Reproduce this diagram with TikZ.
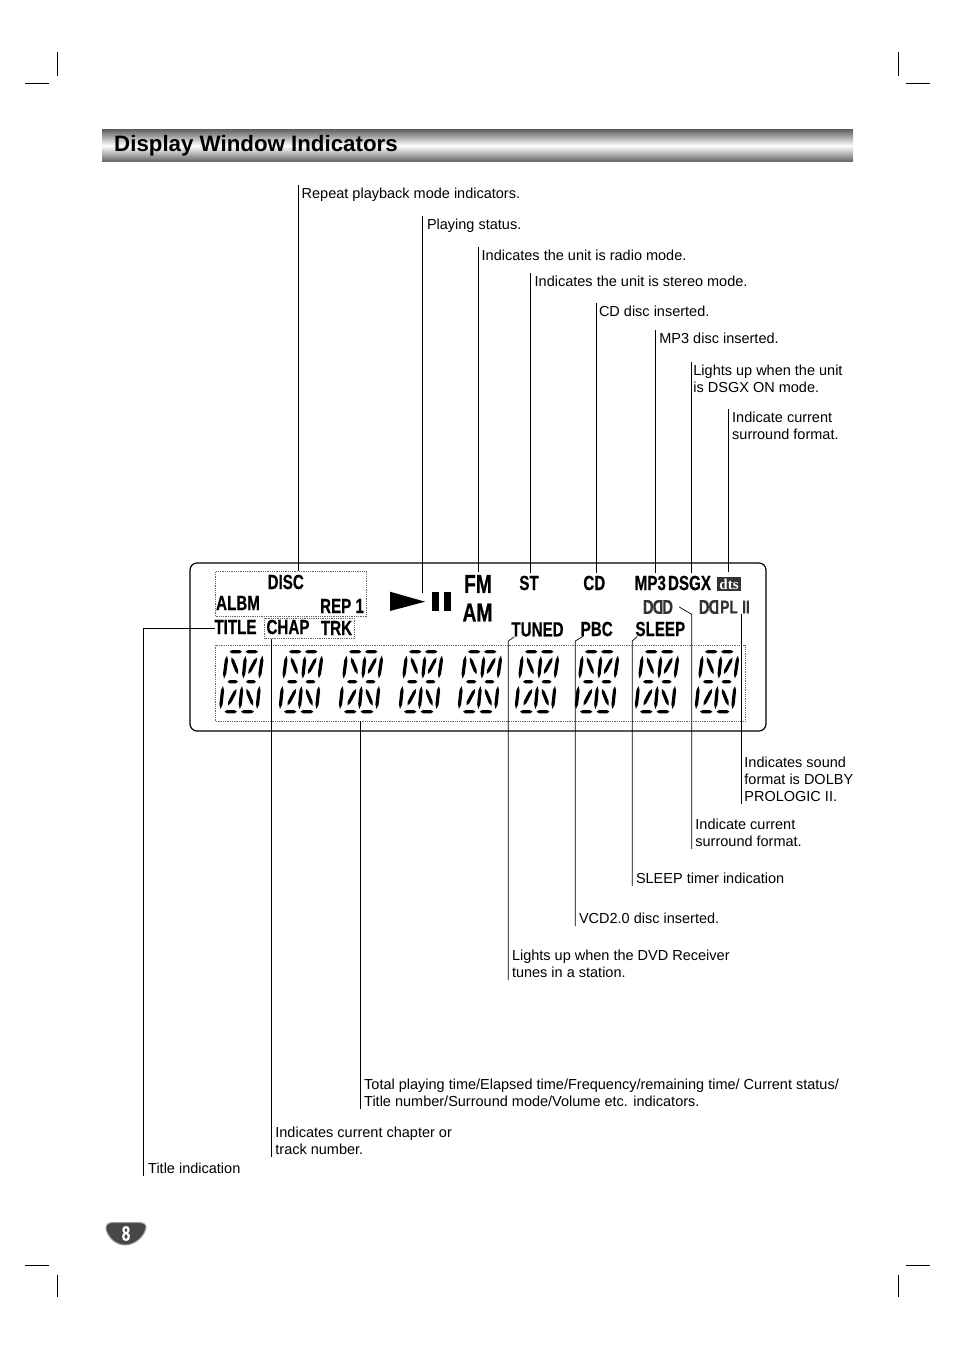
\documentclass[tikz,border=0pt]{standalone}
\usepackage{fontspec}
\usetikzlibrary{calc}
\setmainfont{Liberation Sans}
\newfontfamily\lcdfont[FakeStretch=.74,BoldFeatures={FakeBold=.5}]{Liberation Sans}
\newfontfamily\dtsfont{Liberation Serif}
\newcommand{\lst}{\rule[-2pt]{0pt}{13pt}}
\tikzset{
crop/.style = {line width=.7pt},
leader/.style = {line width=.7pt},
lbl/.style = {font=\fontsize{14.5}{17}\selectfont, align=left, inner xsep=3.5pt},
lbltop/.style = {lbl, anchor=north west, inner ysep=2pt},
lblbot/.style = {lbl, anchor=south west, inner ysep=0pt},
lcd/.style = {font=\lcdfont\bfseries\fontsize{20.5}{22}\selectfont, inner xsep=0pt, inner ysep=3pt},
lcdbig/.style = {lcd, font=\lcdfont\bfseries\fontsize{26}{28}\selectfont},
lcdgray/.style = {lcd, font=\lcdfont\bfseries\fontsize{18.5}{20}\selectfont, text=black!80, inner ysep=0pt},
dotbox/.style = {draw=black!60, line width=.7pt, dash pattern=on .8pt off 1pt, inner sep=0pt}
}
\begin{document}
\begin{tikzpicture}[x=1pt,y=-1pt]
\useasboundingbox (0,0) rectangle (954,1351);
% crop marks
\foreach \cx/\hx in {57/25,898/906}{
	\draw[crop] (\cx,52) -- (\cx,76);
	\draw[crop] (\hx,83) -- (\hx+24,83);
	\draw[crop] (\cx,1275) -- (\cx,1297);
	\draw[crop] (\hx,1265) -- (\hx+24,1265);
}
% heading
\shade[top color=black!62, bottom color=black!62, middle color=white] (102,129.5) rectangle (853,162);
\node[font=\bfseries\fontsize{22.3}{26}\selectfont, anchor=west, inner sep=0pt] (heading) at (114,146) {Display Window Indicators};
% display window
\node[draw, line width=1.2pt, rounded corners=7pt, minimum width=576, minimum height=168, inner sep=0pt] (panel) at (478,647) {};
\node[dotbox, minimum width=151, minimum height=45] (discbox) at (291,594) {};
\node[dotbox, minimum width=90, minimum height=20] (chapbox) at (309.5,628.3) {};
\node[dotbox, minimum width=530, minimum height=76] (digitbox) at (480.7,683) {};
\node[lcd] (disc) at (285.7,582) {DISC};
\node[lcd] (albm) at (238,603) {ALBM};
\node[lcd] (rep) at (342,606) {REP 1};
\node[lcd] (title) at (235.5,627) {TITLE};
\node[lcd] (chap) at (288,627) {CHAP};
\node[lcd] (trk) at (336.5,628) {TRK};
\node[lcdbig] (fm) at (478,584) {FM};
\node[lcdbig] (am) at (477.5,612.5) {AM};
\node[lcd] (st) at (529,583) {ST};
\node[lcd] (cd) at (594.3,583) {CD};
\node[lcd] (mp3) at (650.3,583) {MP3};
\node[lcd] (dsgx) at (689.5,583) {DSGX};
\node[fill=black!80, text=white, font=\dtsfont\bfseries\fontsize{15}{15}\selectfont, inner sep=0pt, minimum width=23.5, minimum height=14.5, outer ysep=4.5pt] (dts) at (729,584) {dts};
\node[lcdgray, inner xsep=6pt, font=\lcdfont\bfseries\fontsize{20}{20}\selectfont] (dolby) at (658,607) {D\hspace{-1pt}\reflectbox{D}\hspace{-1pt}D};
\node[lcdgray, font=\lcdfont\bfseries\fontsize{20}{20}\selectfont] (dolbypl) at (709,607) {D\hspace{-1pt}\reflectbox{D}};
\node[lcdgray] (pl) at (729,607) {PL};
\node[lcdgray] (plii) at (746,607) {II};
\node[lcd] (tuned) at (537.5,629.5) {TUNED};
\node[lcd] (pbc) at (596.7,629) {PBC};
\node[lcd] (sleep) at (660.3,629) {SLEEP};
\fill (390,591.7) -- (425,601.7) -- (390,611) -- cycle;
\fill (432.3,592.3) rectangle (439.3,611);
\fill (444,592.3) rectangle (451,611);
\coordinate (playtip) at (422.3,593);
% sixteen segment digits
\foreach \dx in {0,59.5,119.5,179.5,238.5,295.5,355.5,415.5,475.5}{
	\begin{scope}[xshift=\dx pt]
	\foreach \ax/\ay/\bx/\by in {229.5/651.7/242/651.7,245.5/651.7/258/651.7,
		227/655.5/224/678.5,262.5/655.5/259.3/678.5,245.5/656/243.2/678.5,
		231.5/657.5/238/674,257/657.5/248.3/674,
		227.5/681.7/238/681.7,246/681.7/256/681.7,
		223/686/220.5/709,259.5/686/257/709,242/686/239.8/709,
		236.5/689/228/705.5,246.5/689/253/705.5,
		224.5/711.7/237/711.7,241/711.7/254/711.7}{
		\fill (\ax,\ay) -- ($(\ax,\ay)!.2!(\bx,\by)!1.6pt!90:(\bx,\by)$) -- ($(\ax,\ay)!.8!(\bx,\by)!1.6pt!90:(\bx,\by)$) -- (\bx,\by) -- ($(\ax,\ay)!.8!(\bx,\by)!1.6pt!-90:(\bx,\by)$) -- ($(\ax,\ay)!.2!(\bx,\by)!1.6pt!-90:(\bx,\by)$) -- cycle;
	}
	\end{scope}
}
% labels above
\node[lbltop] (repeatlbl) at (298,185) {\lst Repeat playback mode indicators.\lst};
\node[lbltop, inner xsep=4.5pt] (playlbl) at (422.3,216) {\lst Playing status.\lst};
\node[lbltop] (radiolbl) at (478,247) {\lst Indicates the unit is radio mode.\lst};
\node[lbltop, inner xsep=4.5pt] (stereolbl) at (530,273) {\lst Indicates the unit is stereo mode.\lst};
\node[lbltop, inner xsep=2.5pt] (cdlbl) at (596.3,303) {\lst CD disc inserted.\lst};
\node[lbltop] (mp3lbl) at (655.7,330) {\lst MP3 disc inserted.\lst};
\node[lbltop, inner xsep=1.5pt] (dsgxlbl) at (691.7,362) {\lst Lights up when the unit\\is DSGX ON mode.\lst};
\node[lbltop] (surlbl) at (728.5,409) {\lst Indicate current\\surround format.\lst};
% labels below
\node[lblbot, inner xsep=2.5pt] (pliilbl) at (741.7,804) {\lst Indicates sound\\format is DOLBY\\PROLOGIC II.\lst};
\node[lblbot] (dolbylbl) at (691.7,849) {\lst Indicate current\\surround format.\lst};
\node[lblbot] (sleeplbl) at (632.3,886) {\lst SLEEP timer indication\lst};
\node[lblbot] (pbclbl) at (575.3,926) {\lst VCD2.0 disc inserted.\lst};
\node[lblbot] (tunedlbl) at (508.3,980) {\lst Lights up when the DVD Receiver\\tunes in a station.\lst};
\node[lblbot] (digitlbl) at (360.5,1109) {\lst Total playing time/Elapsed time/Frequency/remaining time/ Current status/\\Title number/Surround mode/Volume etc. indicators.\lst};
\node[lblbot] (chaplbl) at (271.7,1157) {\lst Indicates current chapter or\\track number.\lst};
\node[lblbot, inner xsep=5pt] (titlelbl) at (143,1176) {\lst Title indication\lst};
% connectors
\draw[leader] (repeatlbl.north west) -- (repeatlbl.north west |- discbox.north);
\draw[leader] (playlbl.north west) -- (playtip);
\draw[leader] (radiolbl.north west) -- (radiolbl.north west |- fm.north);
\draw[leader] (stereolbl.north west) -- (stereolbl.north west |- st.north);
\draw[leader] (cdlbl.north west) -- (cdlbl.north west |- cd.north);
\draw[leader] (mp3lbl.north west) -- (mp3lbl.north west |- mp3.north);
\draw[leader] (dsgxlbl.north west) -- (dsgxlbl.north west |- dsgx.north);
\draw[leader] (surlbl.north west) -- (surlbl.north west |- dts.north);
\draw[leader] (pliilbl.south west) -- (pliilbl.south west |- plii.south);
\draw[leader] (dolbylbl.south west) -- (dolbylbl.south west |- 0,614.3) -- (dolby.east);
\draw[leader] (sleeplbl.south west) -- (sleeplbl.south west |- 0,641) -- ([shift={(2,-3)}]sleep.south west);
\draw[leader] (pbclbl.south west) -- (pbclbl.south west |- 0,641) -- ([shift={(2.5,-3)}]pbc.south west);
\draw[leader] (tunedlbl.south west) -- (tunedlbl.south west |- 0,641) -- ([shift={(3,-3)}]tuned.south west);
\draw[leader] (digitlbl.south west) -- (digitlbl.south west |- digitbox.south);
\draw[leader] (chaplbl.south west) -- (chaplbl.south west |- chapbox.south);
\draw[leader] (titlelbl.south west) |- ([shift={(1,1.5)}]title.west);
% page number
\path[fill=black!72, draw=black!40, line width=1pt] (106,1228) .. controls (106,1224) and (109,1222.5) .. (114,1222.5) -- (138,1222.5) .. controls (143,1222.5) and (146,1224) .. (146,1227) .. controls (145,1236) and (135,1245) .. (125,1245) .. controls (116,1245) and (107,1237) .. (106,1228) -- cycle;
\node[text=white, font=\lcdfont\bfseries\fontsize{21}{21}\selectfont, inner sep=0pt] (pagenum) at (126,1233.5) {8};
\end{tikzpicture}
\end{document}
